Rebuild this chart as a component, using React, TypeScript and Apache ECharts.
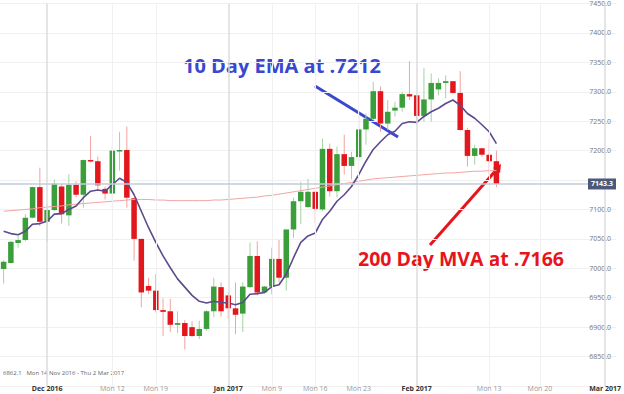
import React, { useEffect, useRef } from "react";
import * as echarts from "echarts";

// ---- data (AUD/USD x10000, daily candles incl. Sunday sessions) ----
const opens = [6999,7009,7043,7048,7086,7138,7079,7099,7139,7090,7142,7125,7184,7182,7135,7127,7199,7201,7119,7050,6970,6962,6929,6927,6904,6907,6900,6885,6897,6927,6968,6954,6932,6923,6968,7021,6959,6969,7016,6984,7066,7114,7104,7130,7100,7203,7131,7194,7174,7189,7236,7254,7301,7246,7268,7273,7296,7294,7259,7287,7304,7315,7318,7298,7235,7191,7204,7193,7182];
const highs = [7014,7046,7055,7092,7139,7171,7109,7151,7143,7160,7148,7185,7225,7190,7139,7208,7232,7241,7119,7050,6984,6990,6949,6948,6927,6912,6910,6911,6929,6984,6976,6959,6976,6976,7044,7046,6970,7035,7048,7066,7120,7147,7152,7131,7220,7212,7207,7227,7198,7266,7263,7317,7309,7286,7283,7300,7352,7294,7340,7331,7323,7328,7318,7335,7239,7210,7205,7220,7200];
const lows = [6974,7008,7035,7046,7085,7072,7045,7097,7076,7072,7121,7103,7180,7134,7117,7117,7166,7103,7013,6934,6956,6925,6885,6892,6890,6862.1,6883,6880,6894,6917,6918,6914,6888,6892,6966,6954,6957,6956,6976,6962,7052,7075,7103,7077,7097,7122,7120,7159,7151,7182,7210,7252,7232,7235,7258,7266,7286,7244,7249,7249,7294,7289,7297,7234,7173,7176,7190,7159,7138];
const closes = [7011,7045,7048,7086,7138,7079,7099,7144,7092,7142,7125,7184,7182,7141,7127,7200,7201,7120,7050,6959,6962,6929,6926,6904,6907,6885,6885,6897,6927,6969,6927,6932,6921,6969,7021,6959,6969,7016,6984,7066,7114,7130,7130,7101,7203,7131,7194,7174,7189,7236,7254,7301,7246,7266,7273,7296,7292,7259,7287,7315,7315,7318,7298,7235,7191,7204,7193,7182,7143.3];
const ema10 = [7063,7059,7057,7063,7075,7076,7080,7092,7093,7100,7106,7120,7131,7133,7131,7142,7153,7146,7125,7097,7069,7044,7021,7001,6982,6968,6954,6944,6941,6944,6942,6941,6938,6942,6956,6957,6959,6969,6972,6990,7018,7044,7055,7060,7083,7097,7114,7125,7139,7159,7182,7202,7215,7227,7233,7246,7249,7248,7258,7266,7272,7280,7286,7277,7263,7255,7244,7232,7212];
const mva200 = [7097,7098,7099,7100,7101,7103,7104,7105,7106,7108,7109,7110,7111,7112,7113,7114,7115,7116,7117,7117,7117,7116,7116,7115,7115,7115,7115,7115,7115,7116,7116,7117,7118,7119,7120,7121,7123,7124,7126,7128,7130,7132,7134,7136,7138,7140,7142,7144,7146,7148,7150,7152,7153,7154,7155,7156,7157,7158,7159,7160,7161,7162,7162,7163,7164,7165,7165,7166,7166];
const lastPrice = 7143.3;
const yTicksMin = 6800;
const yTicksMax = 7450;
const yTickStep = 50;
const hiddenYLabels = [6800, 7150]; // bottom edge and the one under the price tag

// x-axis labels keyed by category date
const xLabels: Record<string, string> = {
  "2016-12-01": "Dec 2016",
  "2016-12-12": "Mon 12",
  "2016-12-19": "Mon 19",
  "2017-01-02": "Jan 2017",
  "2017-01-09": "Mon 9",
  "2017-01-16": "Mon 16",
  "2017-01-23": "Mon 23",
  "2017-02-01": "Feb 2017",
  "2017-02-13": "Mon 13",
  "2017-02-20": "Mon 20",
  "2017-03-01": "Mar 2017",
};
const monthLabels = ["Dec 2016", "Jan 2017", "Feb 2017", "Mar 2017"];
const holidays = ["2016-12-25", "2017-01-01"];

function fmt(d: Date) {
  const m = String(d.getUTCMonth() + 1).padStart(2, "0");
  const dd = String(d.getUTCDate()).padStart(2, "0");
  return `${d.getUTCFullYear()}-${m}-${dd}`;
}

// categories: trading sessions (Sun-Fri) while data exists, then calendar days to Mar 2
function buildCategories(): string[] {
  const out: string[] = [];
  const d = new Date(Date.UTC(2016, 10, 24));
  while (out.length < closes.length) {
    const s = fmt(d);
    if (d.getUTCDay() !== 6 && !holidays.includes(s)) out.push(s);
    d.setUTCDate(d.getUTCDate() + 1);
  }
  const end = Date.UTC(2017, 2, 2);
  while (d.getTime() <= end) {
    out.push(fmt(d));
    d.setUTCDate(d.getUTCDate() + 1);
  }
  return out;
}

export default function App() {
  const ref = useRef<HTMLDivElement>(null);
  useEffect(() => {
    if (!ref.current) return;
    const chart = echarts.init(ref.current, null, { renderer: "svg" });
    const cats = buildCategories();
    const candleData = closes.map((c, i) => [i, opens[i], c, lows[i], highs[i]]);
    const vLines = Object.keys(xLabels).map((k) => {
      const isMonth = monthLabels.includes(xLabels[k]);
      return {
        xAxis: k,
        lineStyle: { color: isMonth ? "#dcdcdc" : "#f0f0f0", width: isMonth ? 1.5 : 1, type: "solid" },
      };
    });

    chart.setOption({
      animation: false,
      backgroundColor: "#ffffff",
      grid: { left: 0, right: 0, top: 0, bottom: 8 },
      xAxis: {
        type: "category",
        data: cats,
        boundaryGap: true,
        axisLine: { show: false },
        axisTick: { show: false },
        splitLine: { show: false },
        axisLabel: {
          interval: (_i: number, v: string) => v in xLabels,
          formatter: (v: string) => {
            const t = xLabels[v] || "";
            return monthLabels.includes(t) ? `{m|${t}}` : `{w|${t}}`;
          },
          margin: -1,
          rich: {
            m: { fontSize: 7, color: "#333", fontWeight: "bold", fontFamily: "Open Sans" },
            w: { fontSize: 7, color: "#999", fontFamily: "Open Sans" },
          },
        },
      },
      yAxis: {
        type: "value",
        position: "right",
        min: yTicksMin,
        max: yTicksMax,
        interval: yTickStep,
        axisLine: { show: false },
        axisTick: { show: false },
        splitLine: { lineStyle: { color: "#f0f0f0", width: 1 } },
        axisLabel: {
          inside: true,
          margin: 5,
          fontSize: 7,
          color: "#777",
          fontFamily: "Open Sans",
          formatter: (v: number) => (hiddenYLabels.includes(v) ? "" : v.toFixed(1)),
        },
      },
      series: [
        {
          type: "line",
          data: [],
          silent: true,
          markLine: {
            silent: true,
            symbol: "none",
            label: { show: false },
            data: vLines,
          },
        },
        {
          type: "custom",
          name: "AUDUSD",
          data: candleData,
          encode: { x: 0, y: [1, 2, 3, 4] },
          renderItem: (_p: any, api: any) => {
            const i = api.value(0);
            const o = api.value(1);
            const c = api.value(2);
            const l = api.value(3);
            const h = api.value(4);
            const pO = api.coord([i, o]);
            const pC = api.coord([i, c]);
            const pL = api.coord([i, l]);
            const pH = api.coord([i, h]);
            const w = api.size([1, 0])[0] * 0.76;
            const up = c >= o;
            const top = Math.min(pO[1], pC[1]);
            const hh = Math.max(Math.abs(pO[1] - pC[1]), 1.5);
            return {
              type: "group",
              children: [
                {
                  type: "line",
                  shape: { x1: pL[0], y1: pL[1], x2: pH[0], y2: pH[1] },
                  style: { stroke: up ? "#a3d4a3" : "#f2a2a2", lineWidth: 1 },
                },
                {
                  type: "rect",
                  shape: { x: pO[0] - w / 2, y: top, width: w, height: hh },
                  style: { fill: up ? "#3a9f3a" : "#e2171d" },
                },
              ],
            };
          },
          markLine: {
            silent: true,
            symbol: "none",
            lineStyle: { color: "#c5ccd8", width: 1.5, type: "solid" },
            label: {
              show: true,
              position: "end",
              distance: 0,
              offset: [-28, 0],
              formatter: () => lastPrice.toFixed(1),
              backgroundColor: "#4b5a7a",
              color: "#ffffff",
              fontSize: 7,
              fontWeight: "bold",
              fontFamily: "Open Sans",
              padding: [2, 3, 2, 3],
            },
            data: [{ yAxis: lastPrice }],
          },
        },
        {
          type: "line",
          name: "200 MVA",
          data: mva200,
          showSymbol: false,
          silent: true,
          lineStyle: { color: "#f3a3a3", width: 1 },
        },
        {
          type: "line",
          name: "10 EMA",
          data: ema10,
          showSymbol: false,
          silent: true,
          lineStyle: { color: "#5d4a8c", width: 1.6 },
        },
      ],
      graphic: [
        {
          type: "text",
          left: 3,
          top: 370,
          style: { text: "6862.1   Mon 14 Nov 2016 - Thu 2 Mar 2017", fontSize: 6, fill: "#666", fontFamily: "Open Sans" },
        },
        {
          type: "text",
          left: 183,
          top: 55,
          style: {
            text: "10 Day EMA at .7212",
            fontSize: 20,
            fontWeight: "bold",
            fill: "#3a47cf",
            fontFamily: "Open Sans",
          },
        },
        {
          type: "line",
          shape: { x1: 315, y1: 86, x2: 398, y2: 137 },
          style: { stroke: "#3a47cf", lineWidth: 3 },
        },
        {
          type: "text",
          left: 358,
          top: 248,
          style: {
            text: "200 Day MVA at .7166",
            fontSize: 19.5,
            fontWeight: "bold",
            fill: "#e8141c",
            fontFamily: "Open Sans",
          },
        },
        {
          type: "line",
          shape: { x1: 430, y1: 245, x2: 498, y2: 168 },
          style: { stroke: "#e8141c", lineWidth: 3 },
        },
        {
          type: "polygon",
          shape: { points: [[501, 164], [493, 168], [500, 173]] },
          style: { fill: "#e8141c" },
        },
      ],
    });
    return () => chart.dispose();
  }, []);
  return <div ref={ref} style={{ width: 624, height: 394, position: "absolute", left: 0, top: 0 }} />;
}
